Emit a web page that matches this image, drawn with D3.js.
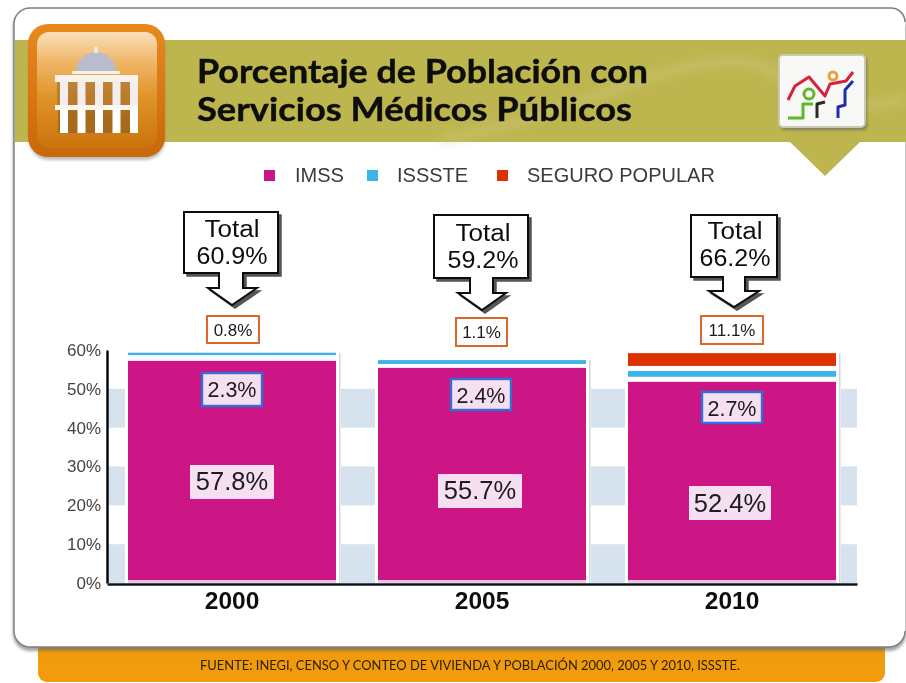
<!DOCTYPE html>
<html><head><meta charset="utf-8">
<script src="https://cdn.jsdelivr.net/npm/d3@7/dist/d3.min.js"></script>
<style>html,body{margin:0;padding:0;background:#fff}svg{display:block}text{font-family:"Liberation Sans",Arial,sans-serif}</style>
</head><body><svg id="c" width="906" height="683"></svg>
<script>
const years=["2000","2005","2010"];
const totals=["60.9%","59.2%","66.2%"];
const imssLabels=["57.8%","55.7%","52.4%"];
const isssteLabels=["2.3%","2.4%","2.7%"];
const popularLabels=["0.8%","1.1%","11.1%"];
// Extents of each band as drawn in the picture, read against the axis (percent)
const imssTop=[57.2,55.4,51.8];
const isssteFrom=[58.7,56.4,53.1];
const isssteTo=[59.3,57.4,54.6];
const popularFrom=[59.3,57.4,55.9];
const popularTo=[59.3,57.4,59.2];
const yTicks=[0,10,20,30,40,50,60];
const bandRanges=[[0,10],[20,30],[40,50]];
const legendNames=["IMSS","ISSSTE","SEGURO POPULAR"];
const titleLines=["Porcentaje de Población con","Servicios Médicos Públicos"];
const sourceText="FUENTE: INEGI, CENSO Y CONTEO DE VIVIENDA Y POBLACIÓN 2000, 2005 Y 2010, ISSSTE.";

const col={imss:"#cc1585",issste:"#3db4e8",popular:"#dc3300",band:"#d6e3ee",olive:"#bdb54e",labelBg:"#f6dff0"};
const svg=d3.select("#c");
const defs=svg.append("defs");
function grad(id,stops){const g=defs.append("linearGradient").attr("id",id).attr("x1",0).attr("y1",0).attr("x2",0).attr("y2",1);
 stops.forEach(s=>g.append("stop").attr("offset",s[0]).attr("stop-color",s[1]));}
grad("org",[[0,"#f9dfbc"],[.25,"#f0b768"],[.55,"#e0952a"],[1,"#c9730c"]]);
grad("orgEdge",[[0,"#e8891f"],[1,"#c9670b"]]);
grad("foot",[[0,"#b98a20"],[.12,"#ef9b08"],[1,"#f29c08"]]);
function blur(id,s){defs.append("filter").attr("id",id).attr("x","-15%").attr("y","-15%").attr("width","130%").attr("height","130%").append("feGaussianBlur").attr("stdDeviation",s);}
blur("soft",1.8);blur("wide",5);blur("fine",.5);
const root=svg.append("g").attr("filter","url(#fine)");
root.append("rect").attr("width",906).attr("height",683).attr("fill","#fff");

// footer strip and card
root.append("rect").attr("x",38).attr("y",630).attr("width",847).attr("height",52).attr("rx",9).attr("fill","url(#foot)");
root.append("rect").attr("x",13).attr("y",10).attr("width",893).attr("height",641).attr("rx",17).attr("fill","#666").attr("opacity",.6).attr("filter","url(#soft)");
root.append("rect").attr("x",14).attr("y",8).attr("width",891).attr("height",639).attr("rx",16).attr("fill","#fff");
root.append("path").attr("d","M905 22A14 14 0 0 0 891 8H30A16 16 0 0 0 14 24V631A16 16 0 0 0 30 647H889A16 16 0 0 0 905 631").attr("fill","none").attr("stroke","#808080").attr("stroke-width",1.5);

// olive header
root.append("rect").attr("x",15).attr("y",40).attr("width",891).attr("height",102).attr("fill",col.olive);
root.append("path").attr("d","M440 138C560 125 660 55 745 62C790 70 830 125 906 98").attr("fill","none").attr("stroke","#cfc97e").attr("stroke-width",10).attr("opacity",.45).attr("filter","url(#wide)");
root.append("path").attr("d","M789 141H861L825 176Z").attr("fill",col.olive);

// orange badge with building
root.append("rect").attr("x",29).attr("y",27).attr("width",136).attr("height",133).attr("rx",20).attr("fill","#888").attr("opacity",.55).attr("filter","url(#soft)");
root.append("rect").attr("x",28).attr("y",24).attr("width",137).attr("height",133).attr("rx",20).attr("fill","url(#orgEdge)");
root.append("rect").attr("x",37).attr("y",32).attr("width",120).attr("height",116).attr("rx",12).attr("fill","url(#org)");
const b=root.append("g");
b.append("path").attr("d","M76 72A20 20 0 0 1 116 72Z").attr("fill","#b9bccb");
b.append("rect").attr("x",94).attr("y",47).attr("width",4).attr("height",6).attr("fill","#efe6dc");
b.append("rect").attr("x",72).attr("y",71).attr("width",48).attr("height",3).attr("fill","#f6efe6");
b.append("rect").attr("x",55).attr("y",75).attr("width",83).attr("height",7).attr("fill","#f8f2ee");
b.append("rect").attr("x",57).attr("y",82).attr("width",79).attr("height",23).attr("fill","#9c6a2c").attr("opacity",.55);
b.append("rect").attr("x",55).attr("y",105).attr("width",83).attr("height",5).attr("fill","#fbf6f0");
b.append("rect").attr("x",58).attr("y",110).attr("width",77).attr("height",23).attr("fill","#8a5a20").attr("opacity",.6);
d3.range(5).forEach(i=>{const x=60+i*17.5;
 b.append("rect").attr("x",x).attr("y",82).attr("width",8).attr("height",23).attr("fill","#f3edf0");
 b.append("rect").attr("x",x).attr("y",110).attr("width",8).attr("height",23).attr("fill","#fff");});

// title
titleLines.forEach((t,i)=>root.append("text").attr("x",197).attr("y",83+i*38)
 .attr("textLength",[451,435][i]).attr("lengthAdjust","spacingAndGlyphs")
 .style("font-family","Lato,sans-serif").style("font-weight",700).style("font-size","32px").attr("stroke","#0d0d08").attr("stroke-width",.4).attr("fill","#0d0d08").text(t));

// chart tile icon
root.append("rect").attr("x",781).attr("y",57).attr("width",86).attr("height",73).attr("rx",4).attr("fill","#6f6f58").attr("opacity",.8).attr("filter","url(#soft)");
root.append("rect").attr("x",779).attr("y",55).attr("width",86).attr("height",72).attr("rx",4).attr("fill","#f8f8f6").attr("stroke","#c9c9b4").attr("stroke-width",2);
const icon=root.append("g").attr("fill","none").attr("stroke-width",3).attr("stroke-linejoin","round");
icon.append("path").attr("d","M788 118H803V104H813").attr("stroke","#5cb82c");
icon.append("circle").attr("cx",809).attr("cy",94).attr("r",5).attr("stroke","#5cb82c");
icon.append("path").attr("d","M788 100L795 86L809 77L825 96L830 84L846 81L853 72").attr("stroke","#d8203c");
icon.append("circle").attr("cx",833).attr("cy",76).attr("r",4).attr("stroke","#e8a23c");
icon.append("path").attr("d","M817 118V104L825 102").attr("stroke","#2a2a2a");
icon.append("path").attr("d","M838 118V107L845 105V90L853 81").attr("stroke","#1c2fb0");

// legend
const legendX=[264,367,497],legendTextX=[295,397,527],legendCol=[col.imss,col.issste,col.popular];
legendNames.forEach((n,i)=>{
 root.append("rect").attr("x",legendX[i]).attr("y",170).attr("width",11).attr("height",11).attr("fill",legendCol[i]);
 root.append("text").attr("x",legendTextX[i]).attr("y",182).style("font-size","20px").attr("fill","#3a3a3a").text(n);
});

// scales
const x=d3.scaleBand().domain(years).range([107,857]).paddingInner(.168).paddingOuter(.084);
const y=d3.scaleLinear().domain([0,60]).range([583,350]);

// stripes
root.append("g").selectAll("rect").data(bandRanges).join("rect")
 .attr("x",108).attr("width",749).attr("y",d=>y(d[1])).attr("height",d=>y(d[0])-y(d[1])).attr("fill",col.band);

// white surrounds and thin side shade
const bw=x.bandwidth();
const stackTop=i=>Math.max(isssteTo[i],popularTo[i]);
root.append("g").selectAll("rect").data(years).join("rect")
 .attr("x",d=>x(d)-3).attr("width",bw+8).attr("y",y(60)+1).attr("height",y(0)-y(60)-1).attr("fill","#fff");
root.append("g").selectAll("rect").data(years).join("rect")
 .attr("x",d=>x(d)+bw+3).attr("width",1.5)
 .attr("y",(d,i)=>y(stackTop(i))).attr("height",(d,i)=>y(0)-y(stackTop(i))).attr("fill","#cfd8dc");

// stacked segments as drawn
function seg(from,to,color){
 root.append("g").selectAll("rect").data(years).join("rect")
  .attr("x",d=>x(d)).attr("width",bw)
  .attr("y",(d,i)=>y(to(i))).attr("height",(d,i)=>y(from(i))-y(to(i))).attr("fill",color);
}
seg(()=>0.7,i=>imssTop[i],col.imss);
seg(i=>isssteFrom[i],i=>isssteTo[i],col.issste);
seg(i=>popularFrom[i],i=>popularTo[i],col.popular);
root.append("g").selectAll("rect").data(years).join("rect")
 .attr("x",d=>x(d)).attr("width",bw).attr("y",y(0.7)).attr("height",y(0)-y(0.7)).attr("fill","#f0c4e2");

// axes
const yAxis=root.append("g").attr("transform","translate(107,0)").call(d3.axisLeft(y).tickValues(yTicks).tickSize(0).tickPadding(6).tickFormat(d=>d+"%"));
yAxis.select(".domain").attr("stroke","#000").attr("stroke-width",2.4);
yAxis.selectAll("text").style("font-size","17px").attr("fill","#444");
const xAxis=root.append("g").attr("transform","translate(0,584)").call(d3.axisBottom(x).tickSize(0).tickPadding(8));
xAxis.select(".domain").attr("stroke","#10181c").attr("stroke-width",2.4);
xAxis.selectAll("text").style("font-size","24.5px").style("font-weight",700).attr("fill","#111");

// label boxes
function labelBox(text,bx,by,bw2,bh,fs,stroke,sw,fill,ty){
 root.append("rect").attr("x",bx).attr("y",by).attr("width",bw2).attr("height",bh).attr("fill",fill).attr("stroke",stroke).attr("stroke-width",sw);
 root.append("text").attr("x",bx+bw2/2).attr("y",ty).attr("text-anchor","middle").style("font-size",fs+"px").attr("fill","#1a1a1a").text(text);
}
const popBox=[[207,316,52,27,336],[456,318,51,28,338],[701,316,62,28,336]];
popularLabels.forEach((t,i)=>{const b=popBox[i];labelBox(t,b[0],b[1],b[2],b[3],17,"#d9682a",2,"#fff",b[4]);});
const issBox=[[202,373,60,33,397],[451,379,60,31,403],[702,392,60,31,416]];
isssteLabels.forEach((t,i)=>{const b=issBox[i];labelBox(t,b[0],b[1],b[2],b[3],21.5,"#2f6fd6",2.4,col.labelBg,b[4]);});
const bigBox=[[190,465,84,34,490],[438,474,84,34,499],[689,486,82,34,512]];
imssLabels.forEach((t,i)=>{const b=bigBox[i];
 root.append("rect").attr("x",b[0]).attr("y",b[1]).attr("width",b[2]).attr("height",b[3]).attr("fill",col.labelBg);
 root.append("text").attr("x",b[0]+b[2]/2).attr("y",b[4]).attr("text-anchor","middle").style("font-size","25.5px").attr("fill","#1a1a1a").text(t);});

// callouts
const call=[
 {l:184,r:278,t:212,b:273,sl:219,sr:243,sb:288,hl:208,hr:257,tx:232,ty:305,cx:232,y1:237,y2:264},
 {l:434,r:528,t:215,b:278,sl:470,sr:493,sb:293,hl:458,hr:506,tx:482,ty:310,cx:483,y1:241,y2:268},
 {l:691,r:777,t:215,b:277,sl:723,sr:745,sb:291,hl:709,hr:759,tx:734,ty:307,cx:735,y1:239,y2:266}];
totals.forEach((t,i)=>{const c=call[i];
 const p=d3.path();p.moveTo(c.l,c.t);p.lineTo(c.r,c.t);p.lineTo(c.r,c.b);p.lineTo(c.sr,c.b);p.lineTo(c.sr,c.sb);p.lineTo(c.hr,c.sb);p.lineTo(c.tx,c.ty);p.lineTo(c.hl,c.sb);p.lineTo(c.sl,c.sb);p.lineTo(c.sl,c.b);p.lineTo(c.l,c.b);p.closePath();
 root.append("path").attr("d",p.toString()).attr("transform","translate(3,3)").attr("fill","#555").attr("stroke","#555").attr("stroke-width",1.5);
 root.append("path").attr("d",p.toString()).attr("fill","#fff").attr("stroke","#111").attr("stroke-width",2);
 const fs=23.5;
 root.append("text").attr("x",c.cx).attr("y",c.y1).attr("text-anchor","middle").attr("textLength",55).attr("lengthAdjust","spacingAndGlyphs").style("font-size",fs+"px").attr("fill","#111").text("Total");
 root.append("text").attr("x",c.cx).attr("y",c.y2).attr("text-anchor","middle").attr("textLength",71).attr("lengthAdjust","spacingAndGlyphs").style("font-size",fs+"px").attr("fill","#111").text(t);
});

// source
root.append("text").attr("x",200).attr("y",670).attr("textLength",540).attr("lengthAdjust","spacingAndGlyphs")
 .style("font-family","Lato,sans-serif").style("font-size","13px").attr("fill","#2e2004").text(sourceText);
</script></body></html>
